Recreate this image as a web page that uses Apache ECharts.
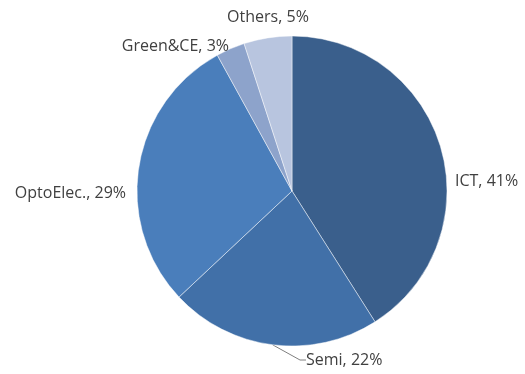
<!DOCTYPE html>
<html>
<head>
<meta charset="utf-8">
<script src="https://cdn.jsdelivr.net/npm/echarts@6/dist/echarts.min.js"></script>
<style>html,body{margin:0;padding:0;background:#fff;}#c{width:525px;height:374px;}</style>
</head>
<body>
<div id="c"></div>
<script>
const categories = ['ICT', 'Semi', 'OptoElec.', 'Green&CE', 'Others'];
const values = [41, 22, 29, 3, 5];
const colors = ['#3A5F8C', '#4170A8', '#4A7EBB', '#8DA3CB', '#B8C5DF'];
// label anchor positions (layout only)
const labelPos = [
  {x: 455, y: 181, align: 'left'},
  {x: 306, y: 360, align: 'left'},
  {x: 126, y: 193, align: 'right'},
  {x: 229, y: 46, align: 'right'},
  {x: 268, y: 17, align: 'center'}
];
const chart = echarts.init(document.getElementById('c'));
chart.setOption({
  animation: false,
  series: [{
    type: 'pie',
    center: [292, 191],
    radius: 155,
    startAngle: 90,
    clockwise: true,
    data: categories.map((n, i) => ({
      name: n, value: values[i],
      itemStyle: {color: colors[i]},
      labelLine: {show: i === 1}
    })),
    itemStyle: {borderColor: 'rgba(255,255,255,0.45)', borderWidth: 1},
    label: {
      show: true, position: 'outside', formatter: '{b}, {c}%', overflow: 'none',
      color: '#404040', fontFamily: 'Open Sans', fontSize: 16
    },
    labelLine: {show: true, lineStyle: {color: '#7f7f7f', width: 1}, length: 10, length2: 6, smooth: false},
    labelLayout: function (p) {
      const lp = labelPos[p.dataIndex];
      return {x: lp.x, y: lp.y, align: lp.align, verticalAlign: 'middle'};
    }
  }]
});
</script>
</body>
</html>
